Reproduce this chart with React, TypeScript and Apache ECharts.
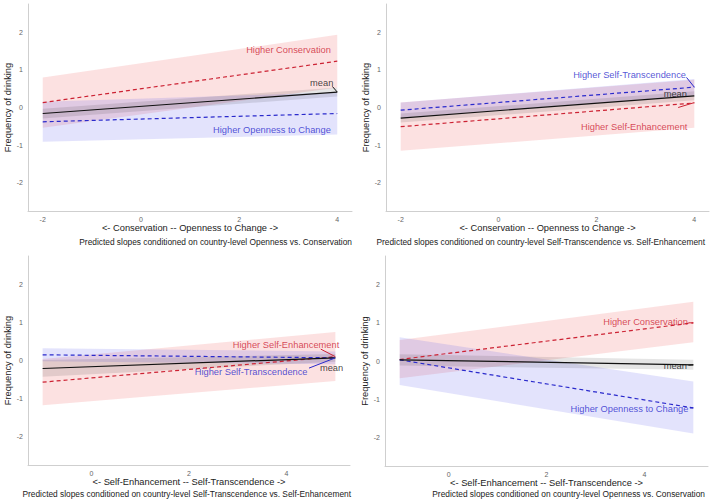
import React, { useEffect, useRef } from "react";
import * as echarts from "echarts";

// ---------- data ----------
const xTop = [-2, 4];
const xBottom = [-1, 5];

// Panel 1: Conservation--Openness, moderated by country-level Openness vs Conservation
const p1Mean = [-0.16, 0.41];
const p1MeanLo = [-0.29, 0.29];
const p1MeanHi = [-0.03, 0.53];
const p1Red = [0.13, 1.23];
const p1RedLo = [-0.54, 0.53];
const p1RedHi = [0.8, 1.93];
const p1Blue = [-0.38, -0.16];
const p1BlueLo = [-0.91, -0.72];
const p1BlueHi = [0.15, 0.4];

// Panel 2
const p2Mean = [-0.28, 0.31];
const p2MeanLo = [-0.4, 0.19];
const p2MeanHi = [-0.16, 0.43];
const p2Blue = [-0.07, 0.54];
const p2BlueLo = [-0.27, 0.32];
const p2BlueHi = [0.13, 0.76];
const p2Red = [-0.51, 0.12];
const p2RedLo = [-1.15, -0.54];
const p2RedHi = [0.13, 0.74];

// Panel 3
const p3Mean = [-0.21, 0.07];
const p3MeanLo = [-0.43, -0.03];
const p3MeanHi = [0.01, 0.17];
const p3Blue = [0.15, 0.07];
const p3BlueLo = [-0.02, -0.1];
const p3BlueHi = [0.32, 0.24];
const p3Red = [-0.57, 0.1];
const p3RedLo = [-1.18, -0.54];
const p3RedHi = [0.04, 0.75];

// Panel 4
const p4Mean = [0.03, -0.1];
const p4MeanLo = [-0.12, -0.23];
const p4MeanHi = [0.18, 0.03];
const p4Red = [0.04, 1.0];
const p4RedLo = [-0.45, 0.49];
const p4RedHi = [0.55, 1.55];
const p4Blue = [0.03, -1.23];
const p4BlueLo = [-0.63, -1.9];
const p4BlueHi = [0.62, -0.54];

const xTitles = [
  "<- Conservation -- Openness to Change ->",
  "<- Conservation -- Openness to Change ->",
  "<- Self-Enhancement -- Self-Transcendence ->",
  "<- Self-Enhancement -- Self-Transcendence ->",
];
const captions = [
  "Predicted slopes conditioned on country-level Openness vs. Conservation",
  "Predicted slopes conditioned on country-level Self-Transcendence vs. Self-Enhancement",
  "Predicted slopes conditioned on country-level Self-Transcendence vs. Self-Enhancement",
  "Predicted slopes conditioned on country-level Openness vs. Conservation",
];
const yTitle = "Frequency of drinking";

// ---------- styles ----------
const RED = "#cc2233";
const BLUE = "#2a2acc";
const BLACK = "#111111";
const RED_FILL = "rgba(240,90,90,0.18)";
const BLUE_FILL = "rgba(90,90,240,0.17)";
const GREY_FILL = "rgba(0,0,0,0.10)";
const FONT = "Liberation Sans, Arial, Helvetica, sans-serif";

const grids = [
  { left: 28, top: 4, width: 324, height: 207 },
  { left: 386, top: 4, width: 323, height: 207 },
  { left: 28, top: 256, width: 322, height: 209 },
  { left: 385, top: 256, width: 323, height: 210 },
];

type Lbl = { text: string; color: string; at: [number, number]; seg?: [[number, number], [number, number]] };

const labels: Lbl[][] = [
  [
    { text: "Higher Conservation", color: RED, at: [3.88, 1.52] },
    { text: "Higher Openness to Change", color: BLUE, at: [3.88, -0.6] },
    { text: "mean", color: BLACK, at: [3.93, 0.65], seg: [[3.9, 0.56], [4, 0.41]] },
  ],
  [
    { text: "Higher Self-Transcendence", color: BLUE, at: [3.84, 0.86], seg: [[3.84, 0.8], [4, 0.54]] },
    { text: "mean", color: BLACK, at: [3.86, 0.36] },
    { text: "Higher Self-Enhancement", color: RED, at: [3.87, -0.51], seg: [[3.67, 0.0], [4, 0.13]] },
  ],
  [
    { text: "Higher Self-Enhancement", color: RED, at: [5.09, 0.41], seg: [[4.7, 0.3], [5, 0.1]] },
    { text: "Higher Self-Transcendence", color: BLUE, at: [4.44, -0.29], seg: [[4.46, -0.2], [5, 0.07]] },
    { text: "mean", color: BLACK, at: [5.17, -0.2] },
  ],
  [
    { text: "Higher Conservation", color: RED, at: [4.9, 1.03], seg: [[4.9, 1.0], [5, 1.0]] },
    { text: "Higher Openness to Change", color: BLUE, at: [4.91, -1.26], seg: [[4.93, -1.23], [5, -1.23]] },
    { text: "mean", color: BLACK, at: [4.88, -0.13], seg: [[4.9, -0.11], [5, -0.1]] },
  ],
];

function band(g: number, xs: number[], lo: number[], hi: number[], fill: string) {
  return {
    type: "custom",
    xAxisIndex: g,
    yAxisIndex: g,
    silent: true,
    z: 1,
    data: xs.map((x, i) => [x, lo[i], hi[i]]),
    encode: { x: 0, y: [1, 2] },
    renderItem: (params: any, api: any) => {
      if (params.dataIndex !== 0) return null;
      const top = xs.map((x, i) => api.coord([x, hi[i]]));
      const bot = xs.map((x, i) => api.coord([x, lo[i]])).reverse();
      return { type: "polygon", shape: { points: [...top, ...bot] }, style: { fill } };
    },
  };
}

function line(g: number, xs: number[], ys: number[], color: string, dashed: boolean) {
  return {
    type: "line",
    xAxisIndex: g,
    yAxisIndex: g,
    silent: true,
    z: 3,
    showSymbol: false,
    data: xs.map((x, i) => [x, ys[i]]),
    lineStyle: { color, width: 1.2, type: dashed ? [4, 3] : "solid" },
  };
}

function labelSeries(g: number, ls: Lbl[]) {
  const out: any[] = [];
  out.push({
    type: "scatter",
    xAxisIndex: g,
    yAxisIndex: g,
    silent: true,
    z: 5,
    symbolSize: 1,
    itemStyle: { color: "transparent" },
    data: ls.map((l) => ({
      value: l.at,
      label: {
        show: true,
        position: "left",
        distance: 0,
        formatter: l.text,
        color: l.color,
        fontSize: 9.3,
        fontFamily: FONT,
      },
    })),
  });
  ls.forEach((l) => {
    if (l.seg) {
      out.push({
        type: "line",
        xAxisIndex: g,
        yAxisIndex: g,
        silent: true,
        z: 4,
        showSymbol: false,
        data: l.seg,
        lineStyle: { color: l.color, width: 1 },
      });
    }
  });
  return out;
}

const evenFmt = (v: number) => (Number.isInteger(v) && v % 2 === 0 ? String(v) : "");
const intFmt = (v: number) => (Number.isInteger(v) ? String(v) : "");

export default function App() {
  const ref = useRef<HTMLDivElement>(null);
  useEffect(() => {
    if (!ref.current) return;
    const chart = echarts.init(ref.current, undefined, { renderer: "svg" });
    const xRanges = [
      [-2.3, 4.3],
      [-2.3, 4.3],
      [-1.3, 5.3],
      [-1.3, 5.3],
    ];
    const yGaps = [15.5, 16, 15.5, 15];
    const xGaps = [12, 12, 10, 10];
    const axisLine = { show: true, onZero: false, lineStyle: { color: "#cfcfcf", width: 1 } };
    const xAxis = grids.map((_, i) => ({
      type: "value",
      gridIndex: i,
      min: xRanges[i][0],
      max: xRanges[i][1],
      axisLine,
      axisTick: { show: false },
      splitLine: { show: false },
      axisLabel: { formatter: evenFmt, color: "#666", fontSize: 7, fontFamily: FONT, margin: 5 },
      name: xTitles[i],
      nameLocation: "middle",
      nameGap: xGaps[i],
      nameTextStyle: { color: "#222", fontSize: 9.3, fontFamily: FONT },
    }));
    const yAxis = grids.map((_, i) => ({
      type: "value",
      gridIndex: i,
      min: -2.75,
      max: 2.75,
      axisLine,
      axisTick: { show: false },
      splitLine: { show: false },
      axisLabel: { formatter: intFmt, color: "#666", fontSize: 7, fontFamily: FONT, margin: 5 },
      name: yTitle,
      nameLocation: "middle",
      nameGap: yGaps[i],
      nameTextStyle: { color: "#222", fontSize: 9.3, fontFamily: FONT },
    }));
    const capPos = [
      { right: 361, top: 238 },
      { right: 8, top: 238 },
      { right: 362, top: 490 },
      { right: 8, top: 490 },
    ];
    const title = captions.map((c, i) => ({
      text: c,
      ...capPos[i],
      padding: 0,
      textStyle: { fontSize: 8.35, fontWeight: "normal", color: "#222", fontFamily: FONT },
    }));

    const series: any[] = [
      band(0, xTop, p1RedLo, p1RedHi, RED_FILL),
      band(0, xTop, p1BlueLo, p1BlueHi, BLUE_FILL),
      band(0, xTop, p1MeanLo, p1MeanHi, GREY_FILL),
      line(0, xTop, p1Red, RED, true),
      line(0, xTop, p1Blue, BLUE, true),
      line(0, xTop, p1Mean, BLACK, false),
      ...labelSeries(0, labels[0]),

      band(1, xTop, p2RedLo, p2RedHi, RED_FILL),
      band(1, xTop, p2BlueLo, p2BlueHi, BLUE_FILL),
      band(1, xTop, p2MeanLo, p2MeanHi, GREY_FILL),
      line(1, xTop, p2Red, RED, true),
      line(1, xTop, p2Blue, BLUE, true),
      line(1, xTop, p2Mean, BLACK, false),
      ...labelSeries(1, labels[1]),

      band(2, xBottom, p3RedLo, p3RedHi, RED_FILL),
      band(2, xBottom, p3BlueLo, p3BlueHi, BLUE_FILL),
      band(2, xBottom, p3MeanLo, p3MeanHi, GREY_FILL),
      line(2, xBottom, p3Red, RED, true),
      line(2, xBottom, p3Blue, BLUE, true),
      line(2, xBottom, p3Mean, BLACK, false),
      ...labelSeries(2, labels[2]),

      band(3, xBottom, p4RedLo, p4RedHi, RED_FILL),
      band(3, xBottom, p4BlueLo, p4BlueHi, BLUE_FILL),
      band(3, xBottom, p4MeanLo, p4MeanHi, GREY_FILL),
      line(3, xBottom, p4Red, RED, true),
      line(3, xBottom, p4Blue, BLUE, true),
      line(3, xBottom, p4Mean, BLACK, false),
      ...labelSeries(3, labels[3]),
    ];

    chart.setOption({
      animation: false,
      backgroundColor: "#ffffff",
      textStyle: { fontFamily: FONT },
      title,
      grid: grids,
      xAxis,
      yAxis,
      series,
    });
    return () => chart.dispose();
  }, []);
  return (
    <div
      ref={ref}
      style={{ position: "fixed", left: 0, top: 0, width: 713, height: 502, background: "#fff" }}
    />
  );
}
